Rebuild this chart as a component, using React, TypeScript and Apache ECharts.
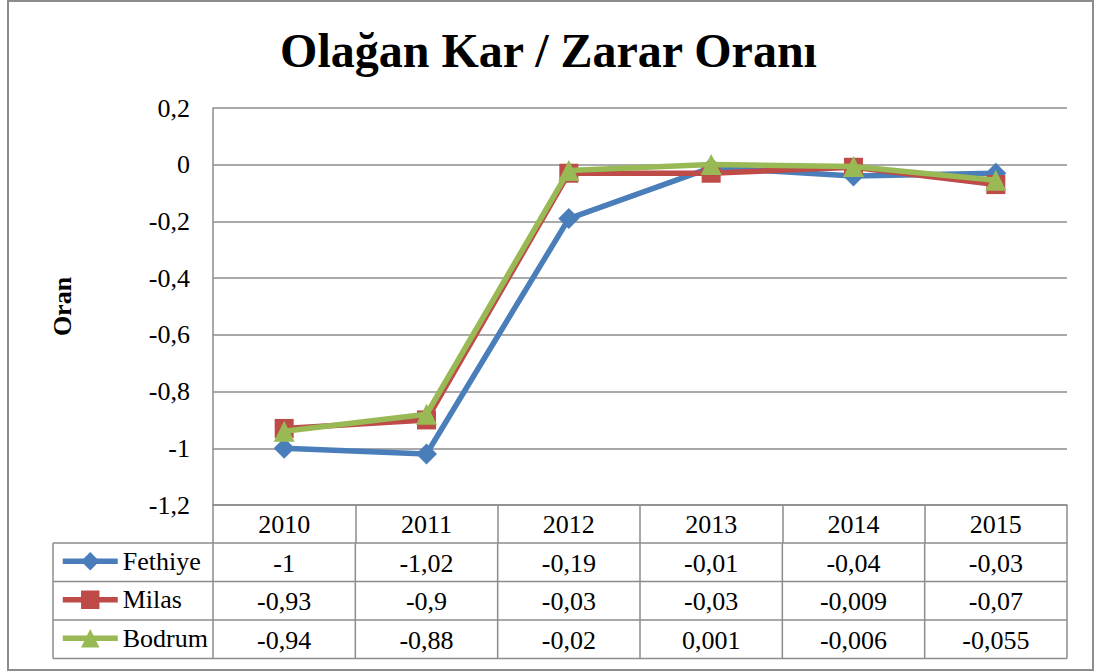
import React, { useEffect, useRef } from "react";
import * as echarts from "echarts";

const categories = ["2010", "2011", "2012", "2013", "2014", "2015"];
const seriesNames = ["Fethiye", "Milas", "Bodrum"];
const fethiye = [-1, -1.02, -0.19, -0.01, -0.04, -0.03];
const milas = [-0.93, -0.9, -0.03, -0.03, -0.009, -0.07];
const bodrum = [-0.94, -0.88, -0.02, 0.001, -0.006, -0.055];
const seriesData = [fethiye, milas, bodrum];
const colors = ["#4a7ebb", "#be4b48", "#98b954"];
const symbols = ["diamond", "rect", "triangle"];
const symbolSizes = [21, 19, 21];

const FONT = "Liberation Serif";
const FS = 26;
const GRID_COLOR = "#8c8c8c";
const fmt = (v: number) => String(v).replace(".", ",");

export default function App() {
  const ref = useRef<HTMLDivElement>(null);
  useEffect(() => {
    if (!ref.current) return;
    const chart = echarts.init(ref.current, undefined, { renderer: "svg" });
    const HEADER_H = 38;
    const ROW_H = 38.5;
    const TABLE_LEFT = 53;

    chart.setOption({
      animation: false,
      backgroundColor: "#ffffff",
      title: {
        text: "Olağan Kar / Zarar Oranı",
        left: "center",
        top: 21,
        textStyle: { fontFamily: FONT, fontSize: 48, fontWeight: "bold", color: "#000" },
      },
      grid: { left: 213, top: 108, width: 854, height: 397, containLabel: false },
      xAxis: {
        type: "category",
        data: categories,
        boundaryGap: true,
        axisLine: { show: true, onZero: false, lineStyle: { color: GRID_COLOR, width: 1.5 } },
        axisTick: { show: true, length: HEADER_H, interval: 0, lineStyle: { color: GRID_COLOR, width: 1.5 } },
        axisLabel: { fontFamily: FONT, fontSize: FS, color: "#000", margin: 6, interval: 0 },
        splitLine: { show: false },
      },
      yAxis: {
        type: "value",
        min: -1.2,
        max: 0.2,
        interval: 0.2,
        name: "Oran",
        nameLocation: "middle",
        nameRotate: 90,
        nameGap: 138,
        nameTextStyle: { fontFamily: FONT, fontSize: FS, fontWeight: "bold", color: "#000" },
        axisLine: { show: true, lineStyle: { color: GRID_COLOR, width: 1.5 } },
        axisTick: { show: false },
        axisLabel: {
          fontFamily: FONT,
          fontSize: FS,
          color: "#000",
          margin: 23,
          formatter: (v: number) => fmt(Math.round(v * 10) / 10),
        },
        splitLine: { show: true, lineStyle: { color: GRID_COLOR, width: 1.5 } },
      },
      legend: seriesNames.map((n, i) => ({
        show: true,
        data: [n],
        left: 60,
        top: 505 + HEADER_H + ROW_H * i + ROW_H / 2 - 14,
        itemWidth: 55,
        itemHeight: 23,
        itemGap: 4,
        lineStyle: { width: 5.5 },
        textStyle: { fontFamily: FONT, fontSize: FS, color: "#000" },
        padding: 0,
        selectedMode: false,
      })),
      series: seriesNames.map((n, i) => ({
        name: n,
        type: "line",
        data: seriesData[i],
        symbol: symbols[i],
        symbolSize: symbolSizes[i],
        showAllSymbol: true,
        lineStyle: { color: colors[i], width: 5.5 },
        itemStyle: { color: colors[i] },
        color: colors[i],
        z: 2 + i,
      })),
    });

    const xs = categories.map((_, i) => chart.convertToPixel({ xAxisIndex: 0 }, i) as number);
    const band = xs[1] - xs[0];
    const x0 = xs[0] - band / 2;
    const xEnd = xs[xs.length - 1] + band / 2;
    const yb = chart.convertToPixel({ yAxisIndex: 0 }, -1.2) as number;
    const rowTop = yb + HEADER_H;
    const lineStyle = { stroke: GRID_COLOR, lineWidth: 1.5 };
    const elements: any[] = [];
    for (let r = 0; r <= seriesNames.length; r++) {
      const y = rowTop + ROW_H * r;
      elements.push({ type: "line", shape: { x1: TABLE_LEFT, y1: y, x2: xEnd, y2: y }, style: lineStyle, silent: true });
    }
    const tableBottom = rowTop + ROW_H * seriesNames.length;
    elements.push({ type: "line", shape: { x1: TABLE_LEFT, y1: rowTop, x2: TABLE_LEFT, y2: tableBottom }, style: lineStyle, silent: true });
    for (let c = 0; c <= categories.length; c++) {
      const x = x0 + band * c;
      elements.push({ type: "line", shape: { x1: x, y1: rowTop, x2: x, y2: tableBottom }, style: lineStyle, silent: true });
    }
    seriesData.forEach((arr, r) => {
      arr.forEach((v, c) => {
        elements.push({
          type: "text",
          x: xs[c],
          y: rowTop + ROW_H * r + ROW_H / 2 + 1,
          silent: true,
          style: {
            text: fmt(v),
            fontFamily: FONT,
            fontSize: FS,
            fill: "#000",
            align: "center",
            verticalAlign: "middle",
          },
        });
      });
    });
    elements.push({
      type: "rect",
      shape: { x: 8, y: 1, width: 1085, height: 669 },
      style: { fill: "none", stroke: GRID_COLOR, lineWidth: 2 },
      silent: true,
      z: -1,
    });
    chart.setOption({ graphic: { elements } });

    return () => chart.dispose();
  }, []);
  return (
    <div
      ref={ref}
      style={{ position: "absolute", left: 0, top: 0, width: 1097, height: 672 }}
    />
  );
}
